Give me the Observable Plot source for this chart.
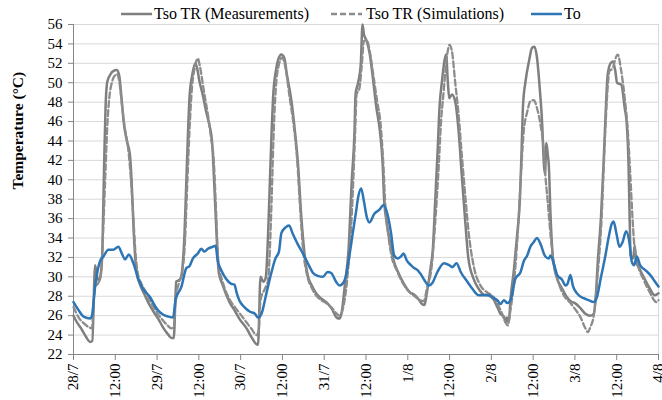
<!DOCTYPE html>
<html>
<head>
<meta charset="utf-8">
<script src="https://cdn.jsdelivr.net/npm/d3@7"></script>
<script src="https://cdn.jsdelivr.net/npm/@observablehq/plot@0.6"></script>
<style>
  html, body { margin: 0; padding: 0; background: #fff; }
  #wrap { width: 662px; }
  #legend { position: relative; width: 662px; height: 20px; font-family: "Liberation Serif", "Times New Roman", Times, "DejaVu Serif", serif; font-size: 16px; color: #000; }
  #legend .txt { position: absolute; top: 6px; line-height: 16px; white-space: nowrap; }
  #legend svg { position: absolute; top: 12px; }
  #chart svg text { font-family: "Liberation Serif", "Times New Roman", Times, "DejaVu Serif", serif; }
</style>
</head>
<body>
<div id="wrap">
  <div id="legend"></div>
  <div id="chart"></div>
</div>
<script>
// ---- data (hours since 28/7 00:00, temperature °C) ----
const seriesNames = ["Tso TR (Measurements)", "Tso TR (Simulations)", "To"];
const tickLabels = ["28/7","12:00","29/7","12:00","30/7","12:00","31/7","12:00","1/8","12:00","2/8","12:00","3/8","12:00","4/8"];
const yTicks = [22,24,26,28,30,32,34,36,38,40,42,44,46,48,50,52,54,56];

const measured = [
  [0,26.0],[1,25.3],[2,24.8],[3.3,24.0],[4.8,23.3],[5.4,23.4],[6.2,31.2],[6.8,30.0],[7.4,29.6],[7.9,30.4],
  [8.3,32.9],[8.6,38.0],[8.9,43.2],[9.2,47.4],[9.7,50.1],[10.5,50.8],[11.4,51.2],[12.4,51.3],[13.1,50.8],
  [13.8,48.4],[14.5,45.7],[15.4,43.9],[16.2,42.6],[16.7,39.8],[17.3,34.6],[18.1,30.5],[19.0,29.3],[20.5,28.1],
  [22.0,27.0],[23.0,26.4],[24.3,25.7],
  [25.7,24.8],[27.1,24.1],[28.1,23.7],[28.8,23.7],[29.5,29.5],[30.0,29.6],[30.7,29.8],[31.3,31.0],[31.9,34.6],
  [32.4,39.8],[32.9,45.0],[33.3,48.4],[34.1,50.8],[35.0,52.0],[35.5,51.5],[36.2,50.1],[37.1,48.8],[38.1,47.0],
  [39.0,45.7],[39.8,43.9],[40.3,40.5],[41.0,35.0],[41.7,30.5],[42.9,29.1],[44.8,27.4],[46.5,26.4],[47.6,25.7],
  [49.7,24.7],[51.1,23.8],[52.4,23.1],[53.0,23.0],[53.7,30.0],[54.5,29.5],[55.2,29.9],[55.9,34.6],[56.4,39.8],
  [56.9,45.0],[57.3,48.4],[58.1,51.2],[58.8,52.4],[59.7,52.9],[60.5,52.6],[61.3,50.8],[62.6,48.1],[63.5,45.3],
  [64.5,41.5],[65.4,36.3],[66.4,32.2],[67.3,30.1],[68.3,29.2],[69.5,28.4],[71.0,27.8],[72.6,27.4],
  [74.2,26.7],[75.6,25.8],[76.4,25.7],[77.0,26.3],[78.0,29.4],[79.0,32.9],[79.9,39.8],[80.7,45.0],[81.0,48.8],
  [81.8,50.1],[82.5,51.9],[83.0,56.0],[83.4,55.0],[84.2,54.3],[85.1,52.9],[86.1,50.1],[87.0,47.4],[88.0,45.0],
  [88.8,41.5],[89.2,38.0],[89.9,35.7],[90.9,33.6],[91.8,31.9],[93.2,30.5],[94.7,29.4],[96.6,28.4],
  [97.7,28.2],[99.1,27.7],[100.1,27.2],[100.8,27.1],[101.5,28.4],[102.5,30.8],[103.2,32.9],[103.9,38.0],
  [104.6,43.2],[105.1,47.4],[105.8,50.1],[106.5,52.2],[107.0,52.9],[107.5,50.1],[107.9,48.4],[108.7,48.8],
  [109.6,48.1],[110.6,45.0],[111.5,40.5],[112.5,35.7],[113.4,31.9],[114.9,29.8],[116.3,28.8],[117.7,28.2],
  [119.1,28.1],[120.6,27.7],
  [121.7,26.9],[122.6,26.2],[123.6,25.9],[124.1,25.3],[124.5,25.8],[125.0,25.3],[125.5,27.7],[126.5,30.8],
  [127.4,34.3],[128.2,38.0],[128.7,43.2],[129.1,47.7],[129.8,50.1],[130.8,52.2],[131.7,53.6],[132.4,53.7],
  [133.1,52.6],[133.9,49.4],[134.6,45.7],[135.1,41.5],[135.4,40.6],[135.8,43.8],[136.2,42.6],[136.5,41.5],
  [137.0,36.3],[137.7,31.9],[138.9,29.8],[140.3,28.8],[141.7,27.9],[143.1,27.4],[144.0,27.3],
  [145.5,26.8],[147.0,26.2],[148.4,26.0],[149.4,26.2],[150.0,28.0],[150.5,31.2],[151.5,36.3],[152.2,41.5],
  [152.8,46.7],[153.4,50.8],[154.2,52.0],[154.9,52.2],[155.6,51.2],[156.1,50.0],[157.3,49.8],[158.3,47.4],
  [158.9,45.7],[159.4,41.5],[159.7,36.3],[160.0,32.2],[160.7,31.9],[161.2,33.2],[161.6,31.5],[162.6,30.8],
  [164.0,29.8],[165.5,28.8],[166.9,28.1],[168.0,28.3]
];

const simulated = [
  [0,26.9],[1.5,25.8],[3,25.2],[4.5,24.8],[5.3,24.7],[5.8,27.5],[6.3,29.0],[7.0,29.3],[7.7,30.0],[8.2,32.0],
  [8.7,36.3],[9.2,41.0],[9.7,45.5],[10.3,48.5],[11.0,50.0],[12.0,50.8],[12.5,50.9],[13.2,50.0],[14.0,47.4],
  [14.8,45.2],[15.7,43.2],[16.5,40.0],[17.2,36.0],[17.8,32.5],[18.5,30.3],[19.5,29.3],[21.0,28.3],[22.5,27.2],
  [24.0,26.3],
  [25.5,25.6],[27.0,25.0],[28.1,24.7],[28.8,24.8],[29.3,27.5],[30.3,29.4],[31.2,30.5],[31.9,32.9],[32.7,39.8],
  [33.3,45.0],[34.0,49.4],[34.8,51.5],[35.7,52.5],[36.4,51.5],[37.6,48.8],[38.6,46.7],[39.5,44.3],[40.3,41.9],
  [41.0,36.3],[41.6,31.5],[42.9,29.4],[44.8,27.7],[46.5,26.8],[47.6,26.3],
  [49.5,25.4],[51.0,24.7],[52.6,24.0],[53.2,24.5],[53.7,27.6],[55.0,28.8],[55.9,29.7],[56.4,32.9],[56.9,38.0],
  [57.5,45.0],[58.1,49.4],[59.0,51.9],[59.9,52.6],[60.9,51.5],[62.1,48.4],[63.2,45.7],[64.2,42.2],[65.1,37.0],
  [65.9,32.9],[66.9,30.5],[68.8,28.6],[71.1,27.6],[72.5,27.3],
  [74.2,26.8],[75.6,26.2],[76.4,26.0],[77.2,26.5],[78.5,29.4],[79.9,36.3],[80.9,45.0],[81.3,48.8],[82.1,49.4],
  [82.8,51.9],[83.4,54.3],[84.2,54.4],[85.1,53.2],[86.1,50.8],[87.2,48.1],[88.2,45.7],[89.0,41.5],[89.6,37.0],
  [90.4,34.3],[91.3,32.2],[92.8,30.7],[94.2,29.6],[96.6,28.4],
  [98.0,28.0],[99.5,27.6],[100.6,27.5],[101.5,28.8],[103.0,31.5],[103.9,35.7],[104.9,41.5],[105.5,45.7],
  [106.3,49.1],[107.2,52.6],[108.0,53.9],[108.7,53.2],[109.6,50.1],[110.6,46.7],[111.5,42.6],[112.5,38.4],
  [113.5,34.5],[115.0,31.0],[116.9,29.1],[118.8,28.4],[120.7,27.9],
  [122.6,26.6],[124.1,25.3],[124.7,25.0],[125.5,26.6],[126.5,29.4],[127.6,34.6],[128.4,39.8],[129.3,45.0],
  [130.3,47.0],[131.2,48.1],[132.2,48.2],[133.1,47.4],[134.1,45.7],[135.0,43.2],[135.5,40.5],[136.2,37.7],
  [137.0,34.3],[137.9,31.5],[139.3,29.4],[140.8,28.1],[142.7,27.3],[144.0,26.7],
  [145.5,25.9],[147.0,24.7],[147.7,24.3],[148.4,24.8],[149.4,26.0],[150.5,30.1],[151.7,36.3],[152.5,43.2],
  [153.2,48.4],[153.9,51.2],[154.9,51.5],[155.4,52.2],[156.3,52.9],[157.3,51.2],[158.3,48.4],[159.2,45.0],
  [159.9,40.5],[160.5,36.3],[161.0,33.5],[162.1,31.2],[163.6,29.8],[165.5,28.4],[167.4,27.4],[168.0,27.6]
];

const outdoor = [
  [0,27.4],[1.4,26.6],[2.9,25.9],[4.8,25.7],[5.3,26.0],[6.2,29.0],[7.6,31.6],[8.6,32.1],[10.0,32.8],[11.4,32.8],
  [12.9,33.1],[13.9,32.4],[14.8,31.8],[15.9,32.3],[17.1,31.5],[18.7,29.7],[20.1,28.7],[22.0,27.9],[23.4,27.0],
  [24.4,26.5],[25.8,26.1],[27.3,25.9],[28.6,25.8],[29.3,27.6],[31.0,29.0],[32.4,30.9],[33.3,31.1],[34.3,31.9],
  [35.7,32.4],[36.7,32.9],[37.6,32.6],[38.6,32.9],[40.0,33.1],[40.8,33.2],[41.4,31.7],[42.4,30.7],[43.8,29.8],
  [45.2,29.3],[46.2,29.2],[46.9,28.3],[47.6,27.6],
  [49.0,26.9],[50.7,26.4],[52.1,26.2],[53.0,25.8],[54.0,26.2],[55.4,28.3],[56.8,30.4],[58.0,31.9],[59.0,32.6],
  [59.7,34.5],[60.9,35.1],[61.9,35.3],[62.9,34.5],[64.5,33.3],[65.9,32.4],[67.3,31.4],[68.8,30.4],[70.2,30.1],
  [71.6,30.0],[73.0,30.5],
  [74.0,30.4],[75.4,29.5],[76.4,29.1],[77.3,29.3],[78.3,30.2],[79.2,32.1],[80.2,34.5],[81.1,36.6],[81.8,38.3],
  [82.6,39.1],[83.4,37.8],[84.2,36.2],[85.0,35.6],[86.4,36.5],[87.8,36.9],[89.1,37.4],[90.2,36.4],[91.2,34.5],
  [92.1,32.2],[93.1,31.9],[94.0,32.1],[94.8,32.4],[95.7,31.7],[96.9,31.2],
  [97.8,30.9],[98.8,30.7],[99.7,30.3],[100.7,29.7],[102.1,29.1],[103.1,29.4],[104.5,30.5],[106.4,31.4],
  [107.9,31.2],[108.8,31.0],[110.0,31.4],[111.2,30.5],[113.1,29.5],[114.5,28.8],[116.4,28.1],[117.8,28.1],
  [119.3,28.1],
  [120.7,27.8],[121.7,27.6],[122.6,27.2],[123.6,27.6],[124.6,27.3],[125.5,27.6],[126.9,29.8],[128.4,30.5],
  [129.3,31.6],[130.3,32.2],[131.2,33.1],[132.2,33.6],[133.1,34.0],[134.1,33.4],[135.5,32.1],[136.5,31.9],
  [137.0,32.2],[137.9,31.4],[138.9,30.2],[140.3,29.7],[141.3,29.1],[141.9,29.3],[142.7,30.2],[143.4,29.1],
  [144.6,28.3],[146.5,27.8],[147.9,27.6],[149.4,27.4],[150.3,27.9],[151.5,30.0],[152.7,32.1],[153.7,34.1],
  [154.6,35.5],[155.1,35.7],[155.9,34.5],[156.8,33.1],[157.7,33.6],[158.7,34.7],[159.7,33.4],[160.3,31.6],
  [161.0,31.2],[161.8,32.1],[162.7,31.2],[164.2,30.7],[165.6,30.2],[167.0,29.5],[168.0,29.0]
];

// ---- styles ----
const colors = ["#7f7f7f", "#8c8c8c", "#2e75b6"];
const tickHours = tickLabels.map((d, i) => i * 12);
const serif = '"Liberation Serif", "Times New Roman", Times, "DejaVu Serif", serif';

// ---- legend ----
const legend = document.getElementById("legend");
const legendItems = [
  {name: seriesNames[0], sx: 121, tx: 154, color: colors[0], dash: null},
  {name: seriesNames[1], sx: 331, tx: 366, color: colors[1], dash: "6,3"},
  {name: seriesNames[2], sx: 531, tx: 564, color: colors[2], dash: null}
];
for (const it of legendItems) {
  const ns = "http://www.w3.org/2000/svg";
  const s = document.createElementNS(ns, "svg");
  s.setAttribute("width", 31); s.setAttribute("height", 4);
  s.style.left = it.sx + "px";
  const l = document.createElementNS(ns, "line");
  l.setAttribute("x1", 0); l.setAttribute("x2", 31); l.setAttribute("y1", 2); l.setAttribute("y2", 2);
  l.setAttribute("stroke", it.color); l.setAttribute("stroke-width", 2.5);
  if (it.dash) l.setAttribute("stroke-dasharray", it.dash);
  s.appendChild(l);
  legend.appendChild(s);
  const t = document.createElement("div");
  t.className = "txt"; t.style.left = it.tx + "px"; t.textContent = it.name;
  legend.appendChild(t);
}

// ---- chart ----
const toObj = arr => arr.map(([h, v]) => ({h, v}));

const chart = Plot.plot({
  width: 662,
  height: 380,
  marginLeft: 73,
  marginRight: 4,
  marginTop: 4,
  marginBottom: 46,
  style: {fontFamily: serif, fontSize: "15px", color: "#000", background: "white", overflow: "visible"},
  x: {domain: [0, 168], label: null},
  y: {domain: [22, 56], label: null},
  marks: [
    Plot.gridY(yTicks, {stroke: "#d9d9d9", strokeOpacity: 1, strokeWidth: 1}),
    Plot.ruleX([168], {stroke: "#d9d9d9", strokeWidth: 1}),
    Plot.axisY(yTicks, {tickSize: 5, tickPadding: 6, stroke: "#868686", fill: "#000", label: null}),
    Plot.axisX(tickHours, {tickFormat: d => tickLabels[Math.round(d / 12)], tickRotate: -90, tickSize: 6, tickPadding: 3, stroke: "#868686", fill: "#000", label: null}),
    Plot.ruleX([0], {stroke: "#868686", strokeWidth: 1}),
    Plot.ruleY([22], {stroke: "#868686", strokeWidth: 1}),
    Plot.line(toObj(measured), {x: "h", y: "v", stroke: colors[0], strokeWidth: 2.5, curve: "monotone-x"}),
    Plot.line(toObj(simulated), {x: "h", y: "v", stroke: colors[1], strokeWidth: 2.3, strokeDasharray: "6,3", curve: "monotone-x"}),
    Plot.line(toObj(outdoor), {x: "h", y: "v", stroke: colors[2], strokeWidth: 2.5, curve: "monotone-x"}),
    Plot.text(["Temperature (°C)"], {frameAnchor: "left", rotate: -90, dx: -55, fontWeight: "bold", fontSize: 15.5, fill: "#000"})
  ]
});
document.getElementById("chart").appendChild(chart);
</script>
</body>
</html>
